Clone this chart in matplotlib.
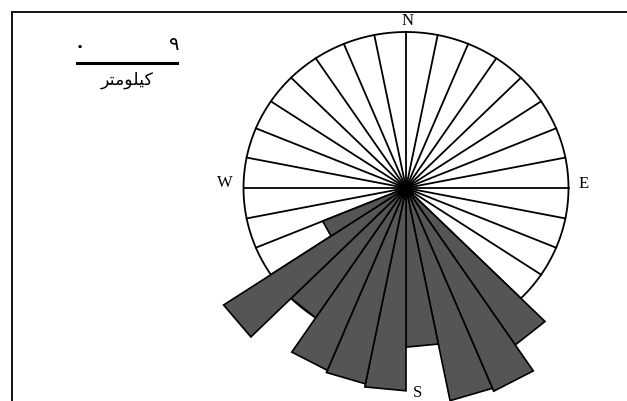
import numpy as np
import matplotlib
matplotlib.use('Agg')
import matplotlib.pyplot as plt
from matplotlib.lines import Line2D

# settori da 11.25 gradi (32 direzioni), azimut misurato da N in senso orario
passo_settore = 11.25
n_settori = 32

# settori pieni: inizio settore (gradi) e lunghezza relativa al cerchio
inizio_settori = [135.0, 146.25, 157.5, 168.75, 180.0, 191.25, 202.5, 213.75, 225.0, 236.25]
lunghezze = [1.21, 1.41, 1.39, 1.02, 1.30, 1.28, 1.265, 1.00, 1.35, 0.555]

punti_cardinali = ['N', 'E', 'S', 'W']
scala_valori = ['۰', '۹']
# "کیلومتر" in forme di presentazione, ordine visivo da sinistra a destra
scala_unita = '\uFEAE\uFE98\uFEE3\uFEEE\uFEE0\uFBFF\uFB90'

W_PX, H_PX = 627, 401
fig = plt.figure(figsize=(W_PX / 100, H_PX / 100), dpi=100)


def fx(x):
    return x / W_PX


def fy(y):
    return 1 - y / H_PX


# cornice: solo bordo superiore e sinistro
fig.add_artist(Line2D([fx(12), 1.0], [fy(12), fy(12)], color='black', lw=1.3))
fig.add_artist(Line2D([fx(12), fx(12)], [fy(12), 0.0], color='black', lw=1.3))

# rosa dei venti
cx, cy = 406, 188
rx, ry = 162.5, 156
ax = fig.add_axes([fx(cx - rx), fy(cy + ry), (2 * rx) / W_PX, (2 * ry) / H_PX],
                  projection='polar')
ax.set_aspect('auto')
ax.set_theta_zero_location('N')
ax.set_theta_direction(-1)
ax.set_ylim(0, 1)
ax.axis('off')

tt = np.linspace(0, 2 * np.pi, 400)
ax.plot(tt, np.ones_like(tt), color='black', lw=1.3, zorder=1, clip_on=False)
for k in range(n_settori):
    th = np.deg2rad(k * passo_settore)
    ax.plot([th, th], [0, 1], color='black', lw=1.3, zorder=1.5, clip_on=False)

# spicchi a fondo piatto (triangoli dal centro)
for t0, L in zip(inizio_settori, lunghezze):
    t1 = np.deg2rad(t0)
    t2 = np.deg2rad(t0 + passo_settore)
    ax.fill([0, t1, t2], [0, L, L], facecolor='#555555', edgecolor='black',
            linewidth=1.2, zorder=2, clip_on=False)

# etichette dei punti cardinali
pos_cardinali = {'N': (408, 21), 'E': (584, 184), 'S': (417, 393), 'W': (225, 183)}
for p in punti_cardinali:
    x, y = pos_cardinali[p]
    fig.text(fx(x), fy(y), p, family='Liberation Serif', fontsize=12,
             ha='center', va='center')

# barra di scala
fig.add_artist(Line2D([fx(77), fx(177)], [fy(63), fy(63)], color='black', lw=2.2))
fig.text(fx(79), fy(46), scala_valori[0], family=['DejaVu Sans'], fontsize=12,
         fontweight='bold', ha='center', va='center')
fig.text(fx(174), fy(44), scala_valori[1], family=['DejaVu Sans'], fontsize=14,
         ha='center', va='center')
fig.text(fx(127), fy(80), scala_unita, family=['DejaVu Sans'], fontsize=12.5,
         ha='center', va='center')

fig.savefig('out.png', dpi=100)
